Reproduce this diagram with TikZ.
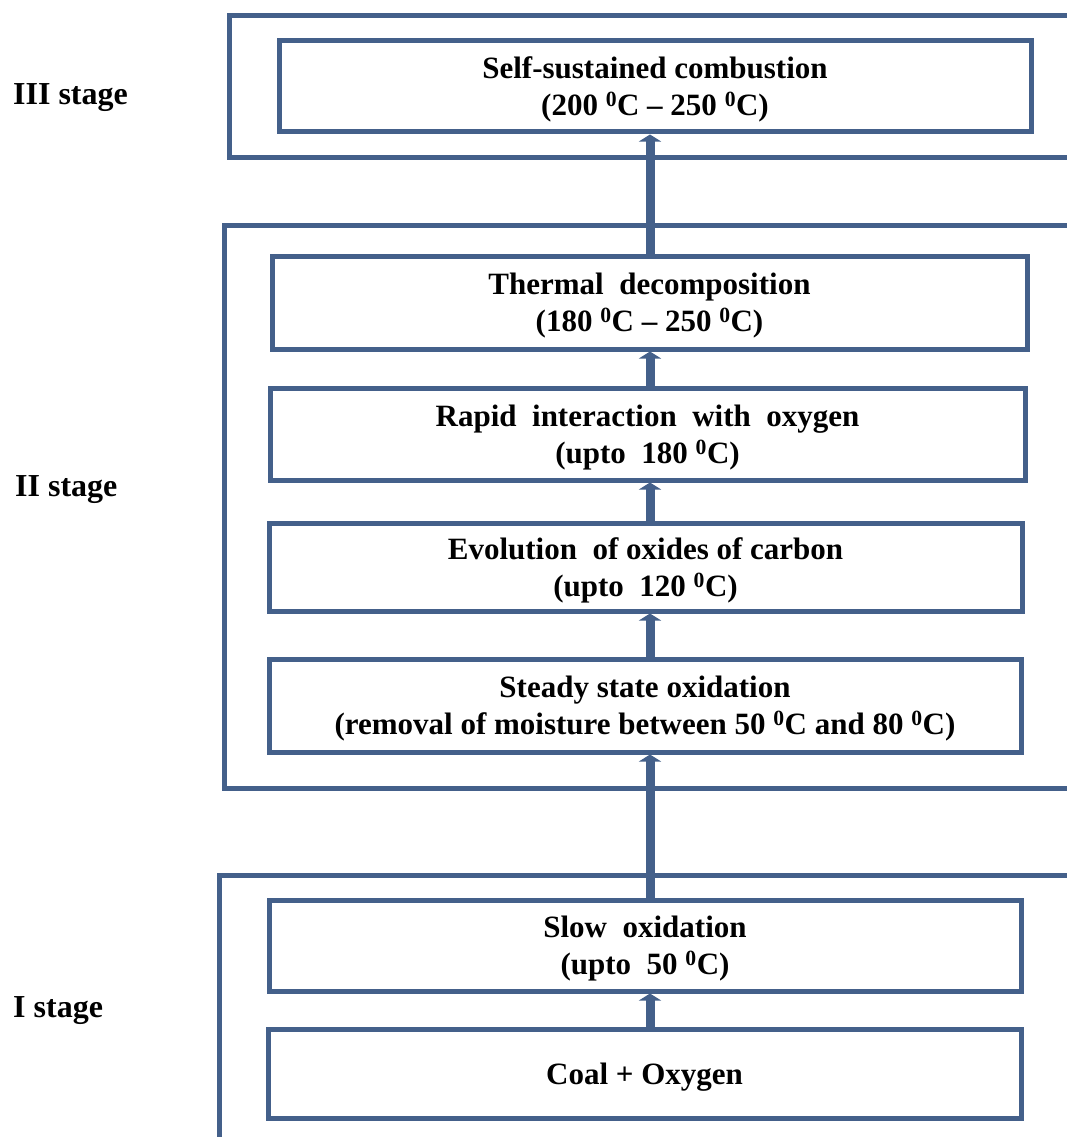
\documentclass[tikz,border=0pt]{standalone}
\usepackage{fontspec}
\setmainfont{Liberation Serif}
\usetikzlibrary{arrows.meta}

\definecolor{frame}{RGB}{68,96,138}

\tikzset{
  stagebox/.style={draw=frame, line width=5pt, fill=none},
  procbox/.style={draw=frame, line width=5pt, fill=white, rectangle,
    align=center, inner sep=0pt, text depth=0pt,
    font=\bfseries\fontsize{31}{37}\selectfont},
  stagelabel/.style={anchor=west, inner sep=0pt,
    font=\bfseries\fontsize{32}{38}\selectfont},
  flow/.style={draw=frame, line width=9pt,
    -{Triangle[width=22pt,length=7pt]}},
}

\newcommand{\dg}{\textsuperscript{0}}

\begin{document}
\begin{tikzpicture}[x=1pt,y=-1pt]
  \useasboundingbox (0,0) rectangle (1067,1137);
  \fill[white] (0,0) rectangle (1067,1137);
  \clip (0,0) rectangle (1067,1137);

  % stage frames (open to the right and, for stage I, to the bottom)
  \draw[stagebox] (229,15.5) rectangle (1090,157);
  \draw[stagebox] (224,225.5) rectangle (1090,788);
  \draw[stagebox] (219,875.5) rectangle (1090,1160);

  % stage labels
  \node[stagelabel] (lab3) at (13,98) {III stage};
  \node[stagelabel] (lab2) at (15,490) {II stage};
  \node[stagelabel] (lab1) at (13,1011) {I stage};

  % process steps
  \node[procbox, minimum width=752pt, minimum height=91pt] (self) at (655,86.5)
    {Self-sustained combustion\\(200 \dg C -- 250 \dg C)};
  \node[procbox, minimum width=755pt, minimum height=93pt] (therm) at (649.5,302.5)
    {Thermal\ \ decomposition\\(180 \dg C -- 250 \dg C)};
  \node[procbox, minimum width=755pt, minimum height=92pt] (rapid) at (647.5,434)
    {Rapid\ \ interaction\ \ with\ \ oxygen\\(upto\ \ 180 \dg C)};
  \node[procbox, minimum width=753pt, minimum height=88pt] (evol) at (645.5,567)
    {Evolution\ \ of oxides of carbon\\(upto\ \ 120 \dg C)};
  \node[procbox, minimum width=752pt, minimum height=93pt] (steady) at (645,705.5)
    {Steady state oxidation\\(removal of moisture between 50 \dg C and 80 \dg C)};
  \node[procbox, minimum width=752pt, minimum height=91pt] (slow) at (645,945.5)
    {Slow\ \ oxidation\\(upto\ \ 50 \dg C)};
  \node[procbox, minimum width=753pt, minimum height=89pt] (coal) at (644.5,1073.5)
    {Coal + Oxygen};

  % common vertical axis of the flow arrows
  \coordinate (ax) at (650,0);

  \draw[flow] (coal.north -| ax) -- (slow.south -| ax);
  \draw[flow] (slow.north -| ax) -- (steady.south -| ax);
  \draw[flow] (steady.north -| ax) -- (evol.south -| ax);
  \draw[flow] (evol.north -| ax) -- (rapid.south -| ax);
  \draw[flow] (rapid.north -| ax) -- (therm.south -| ax);
  \draw[flow] (therm.north -| ax) -- (self.south -| ax);
\end{tikzpicture}
\end{document}
